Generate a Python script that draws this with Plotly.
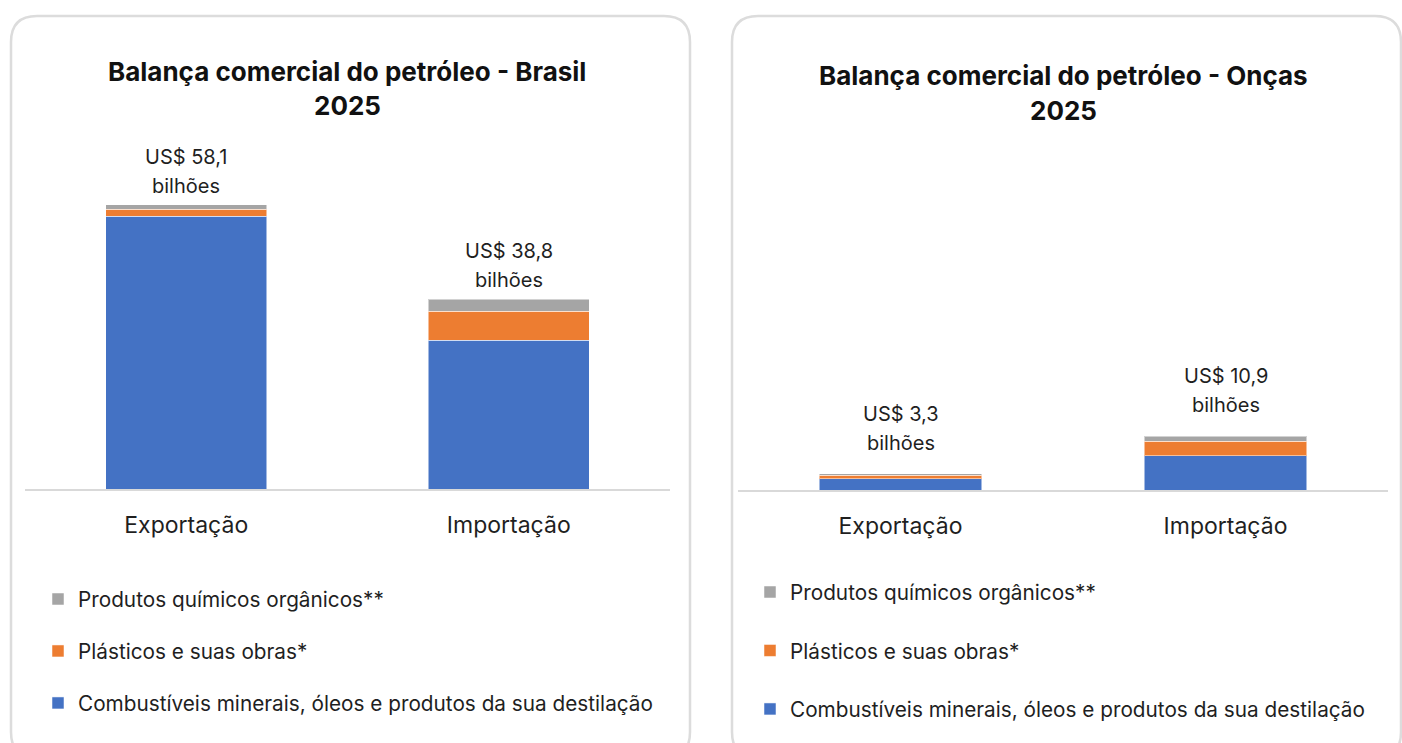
import plotly.graph_objects as go

# ---------------- data ----------------
categories = ["Exportação", "Importação"]
series_names = [
    "Combustíveis minerais, óleos e produtos da sua destilação",
    "Plásticos e suas obras*",
    "Produtos químicos orgânicos**",
]
series_colors = ["#4472C4", "#ED7D31", "#A5A5A5"]
legend_ranks = [3, 2, 1]

brasil_combustiveis = [55.8, 30.4]
brasil_plasticos = [1.4, 5.9]
brasil_quimicos = [0.9, 2.5]
brasil_totais = [58.1, 38.8]
brasil_valores = ["US$ 58,1", "US$ 38,8"]

oncas_combustiveis = [2.3, 6.9]
oncas_plasticos = [0.7, 2.9]
oncas_quimicos = [0.3, 1.1]
oncas_totais = [3.3, 10.9]
oncas_valores = ["US$ 3,3", "US$ 10,9"]

unidade = "bilhões"
title_brasil = ["Balança comercial do petróleo - Brasil", "2025"]
title_oncas = ["Balança comercial do petróleo - Onças", "2025"]

# ---------------- layout helpers ----------------
W, H = 1402, 743
FONT = "Inter"
TXT = "#1f1f1f"


def px(x):
    return x / W


def py(y):
    return 1 - y / H


fig = go.Figure()

panels = [
    ("x", "y", "legend", [brasil_combustiveis, brasil_plasticos, brasil_quimicos]),
    ("x2", "y2", "legend2", [oncas_combustiveis, oncas_plasticos, oncas_quimicos]),
]
for xa, ya, lg, vals in panels:
    for name, color, rank, v in zip(series_names, series_colors, legend_ranks, vals):
        fig.add_trace(go.Bar(
            x=categories, y=v, name=name, xaxis=xa, yaxis=ya,
            marker=dict(color=color, line=dict(color="rgba(255,255,255,0.5)", width=1)),
            legend=lg, legendgroup=lg + name, legendrank=rank, hoverinfo="skip",
        ))


# cards (rounded rectangles)
def card(x0, y0, x1, y1, r):
    p = (f"M {px(x0 + r)} {py(y0)} L {px(x1 - r)} {py(y0)} "
         f"Q {px(x1)} {py(y0)} {px(x1)} {py(y0 + r)} "
         f"L {px(x1)} {py(y1 - r)} Q {px(x1)} {py(y1)} {px(x1 - r)} {py(y1)} "
         f"L {px(x0 + r)} {py(y1)} Q {px(x0)} {py(y1)} {px(x0)} {py(y1 - r)} "
         f"L {px(x0)} {py(y0 + r)} Q {px(x0)} {py(y0)} {px(x0 + r)} {py(y0)} Z")
    return dict(type="path", xref="paper", yref="paper", path=p,
                line=dict(color="#DCDCDC", width=2.5), fillcolor="rgba(0,0,0,0)", layer="below")


shapes = [card(11, 16, 690, 758, 26), card(732, 16, 1401, 758, 26)]

annotations = []
# titles
for (l1, l2), cx, y1, y2 in [(title_brasil, 347, 72, 105), (title_oncas, 1063, 75, 111)]:
    for txt, yy in [(l1, y1), (l2, y2)]:
        annotations.append(dict(text=f"<b>{txt}</b>", x=px(cx), y=py(yy), xref="paper", yref="paper",
                                showarrow=False, font=dict(size=26, color="#111", family=FONT),
                                xanchor="center", yanchor="middle"))

# data labels
for xr, yr, tots, vals, s2 in [("x", "y", brasil_totais, brasil_valores, 19),
                               ("x2", "y2", oncas_totais, oncas_valores, 31)]:
    for c, t, v in zip(categories, tots, vals):
        for txt, sh in [(v, s2 + 29), (unidade, s2)]:
            annotations.append(dict(text=txt, x=c, y=t, xref=xr, yref=yr, showarrow=False,
                                    xanchor="center", yanchor="middle", yshift=sh,
                                    font=dict(size=20, color=TXT, family=FONT)))

axis_common = dict(showline=True, linecolor="#D9D9D9", linewidth=2, ticks="",
                   showgrid=False, zeroline=False, fixedrange=True,
                   tickfont=dict(size=23, color=TXT, family=FONT), ticklabelstandoff=14)
yaxis_common = dict(visible=False, showgrid=False, zeroline=False, fixedrange=True)

fig.update_layout(
    width=W, height=H, autosize=False,
    margin=dict(l=0, r=0, t=0, b=0),
    paper_bgcolor="white", plot_bgcolor="white",
    barmode="stack", bargap=0.5,
    font=dict(family=FONT, color=TXT),
    showlegend=True,
    xaxis=dict(domain=[px(25), px(670)], anchor="y", **axis_common),
    yaxis=dict(domain=[py(489), py(140)], range=[0, (489 - 140) / 4.89], anchor="x", **yaxis_common),
    xaxis2=dict(domain=[px(738), px(1388)], anchor="y2", **axis_common),
    yaxis2=dict(domain=[py(490), py(140)], range=[0, (490 - 140) / 4.95], anchor="x2", **yaxis_common),
    legend=dict(x=px(38), y=py(579), xanchor="left", yanchor="top",
                traceorder="grouped", tracegroupgap=22,
                font=dict(size=20.75, color=TXT, family=FONT), bgcolor="rgba(0,0,0,0)"),
    legend2=dict(x=px(750), y=py(572), xanchor="left", yanchor="top",
                 traceorder="grouped", tracegroupgap=28.5,
                 font=dict(size=20.75, color=TXT, family=FONT), bgcolor="rgba(0,0,0,0)"),
    shapes=shapes,
    annotations=annotations,
)

fig.write_html("out.html", config={"displayModeBar": False},
               post_script="document.body.style.margin='0';")
